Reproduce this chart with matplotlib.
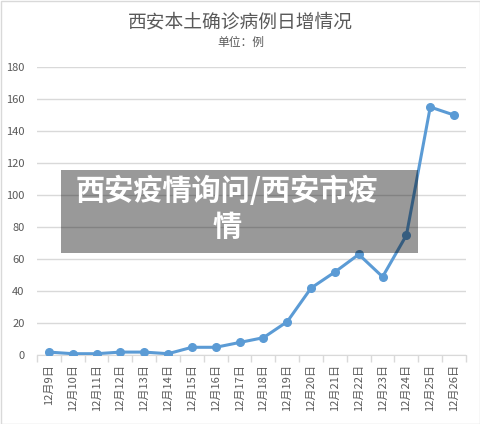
import matplotlib.pyplot as plt
from matplotlib.patches import Rectangle

plt.rcParams['font.family'] = ['Noto Sans CJK SC', 'DejaVu Sans']

# Data
dates = ["12月9日", "12月10日", "12月11日", "12月12日", "12月13日", "12月14日",
         "12月15日", "12月16日", "12月17日", "12月18日", "12月19日", "12月20日",
         "12月21日", "12月22日", "12月23日", "12月24日", "12月25日", "12月26日"]
cases = [2, 1, 1, 2, 2, 1, 5, 5, 8, 11, 21, 42, 52, 63, 49, 75, 155, 150]
y_ticks = [0, 20, 40, 60, 80, 100, 120, 140, 160, 180]

text_gray = "#595959"
grid_gray = "#d9d9d9"
line_blue = "#5b9bd5"

fig = plt.figure(figsize=(4.81, 4.24), dpi=100)
ax = fig.add_axes([37 / 481, 1 - 355.3 / 424, (466 - 37) / 481, (355.3 - 67) / 424])

x = list(range(len(dates)))
ax.plot(x, cases, color=line_blue, lw=2.2, marker="o", ms=5.5, zorder=3,
        solid_capstyle="round")

ax.set_xlim(-0.5, len(dates) - 0.5)
ax.set_ylim(0, 180)
ax.set_yticks(y_ticks)
ax.set_yticklabels([str(v) for v in y_ticks], fontsize=8, color=text_gray)
ax.tick_params(axis="y", length=0, pad=9)
ax.yaxis.grid(True, color=grid_gray, lw=1)
ax.set_axisbelow(True)

# category labels at centres, tick marks between categories
ax.set_xticks(x)
ax.set_xticklabels(dates, rotation=90, fontsize=8, color=text_gray, va="top")
ax.tick_params(axis="x", which="major", length=0, pad=6)
ax.set_xticks([i - 0.5 for i in range(len(dates) + 1)], minor=True)
ax.tick_params(axis="x", which="minor", length=5, color=grid_gray, width=1)

for side in ["top", "right", "left"]:
    ax.spines[side].set_visible(False)
ax.spines["bottom"].set_color(grid_gray)

fig.text(0.5, 1 - 22 / 424, "西安本土确诊病例日增情况", ha="center", va="center",
         fontsize=13.5, color=text_gray)
fig.text(0.5, 1 - 42 / 424, "单位：例", ha="center", va="center",
         fontsize=8.5, color=text_gray)

# chart frame
fig.patches.append(Rectangle((0.5 / 481, 0.5 / 424), 479.5 / 481, 422.5 / 424,
                             transform=fig.transFigure, fill=False,
                             edgecolor=grid_gray, lw=1))

# overlay caption box
fig.patches.append(Rectangle((61 / 481, 1 - 253 / 424), (418 - 61) / 481, 83 / 424,
                             transform=fig.transFigure, facecolor="black",
                             alpha=0.4, edgecolor="none", zorder=5))
fig.text(227 / 481, 1 - 191 / 424, "西安疫情询问/西安市疫", ha="center", va="center",
         fontsize=21, fontweight="bold", color="white", zorder=6)
fig.text(227 / 481, 1 - 227 / 424, "情", ha="center", va="center",
         fontsize=21, fontweight="bold", color="white", zorder=6)

fig.savefig("out.png", dpi=100)
